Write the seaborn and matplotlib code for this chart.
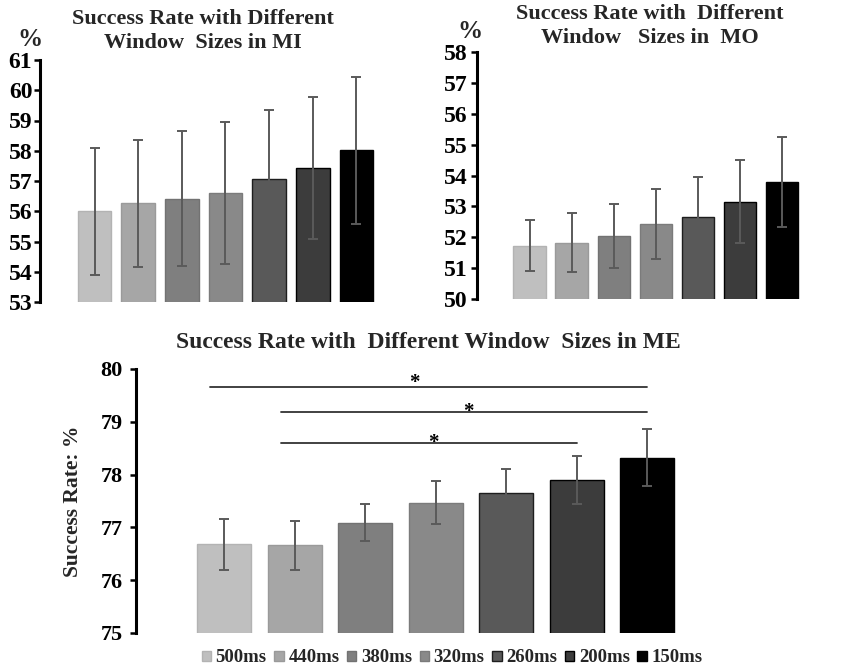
import numpy as np
import pandas as pd
import matplotlib
matplotlib.use("Agg")
import matplotlib.pyplot as plt
from matplotlib.patches import Patch
import seaborn as sns

# window sizes (categories)
windows = ['500ms', '440ms', '380ms', '320ms', '260ms', '200ms', '150ms']

# success rate (%) and error bar half-lengths
mi_mean = [56.00, 56.27, 56.42, 56.59, 57.08, 57.44, 58.01]
mi_err = [2.10, 2.10, 2.23, 2.35, 2.28, 2.35, 2.42]
mo_mean = [51.73, 51.82, 52.05, 52.42, 52.64, 53.15, 53.79]
mo_err = [0.83, 0.95, 1.03, 1.14, 1.31, 1.35, 1.47]
me_mean = [76.68, 76.66, 77.09, 77.47, 77.66, 77.90, 78.32]
me_err = [0.48, 0.46, 0.35, 0.41, 0.45, 0.45, 0.54]

# significance comparisons in ME (bar index pairs, bracket level, star spot)
sig_pairs = [(0, 6), (1, 6), (1, 5)]
sig_levels = [79.66, 79.19, 78.60]
star_x = [2.70, 3.46, 2.96]
star_y = [79.83, 79.28, 78.69]

colors = ['#bfbfbf', '#a6a6a6', '#7f7f7f', '#898989', '#595959', '#3c3c3c', '#000000']
edges = ['#b3b3b3', '#9a9a9a', '#727272', '#7b7b7b', '#1e1e1e', '#000000', '#000000']

sns.set_theme(style='white')
plt.rcParams['font.family'] = ['Liberation Serif', 'DejaVu Serif']
plt.rcParams['font.weight'] = 'bold'

fig = plt.figure(figsize=(8.5, 6.68), dpi=100)


def draw_panel(ax, mean, err, ylim, tick_size, tick_pad):
    df = pd.DataFrame({'window': windows, 'rate': mean})
    sns.barplot(data=df, x='window', y='rate', hue='window', palette=colors,
                order=windows, hue_order=windows, legend=False,
                errorbar=None, width=0.77, ax=ax)
    for patch, ec in zip(ax.patches, edges):
        patch.set_edgecolor(ec)
        patch.set_linewidth(1.0)
    ax.errorbar(np.arange(len(windows)), mean, yerr=err, fmt='none',
                ecolor='#5a5a5a', elinewidth=1.4, capsize=3.6, capthick=1.4)
    ax.set_ylim(*ylim)
    ax.set_xlim(-1.25, 6.45)
    ax.set_yticks(np.arange(ylim[0], ylim[1] + 1))
    ax.set_xticks([])
    ax.set_xlabel('')
    ax.set_ylabel('')
    for s in ['top', 'right', 'bottom']:
        ax.spines[s].set_visible(False)
    ax.spines['left'].set_linewidth(2.2)
    ax.spines['left'].set_color('black')
    ax.tick_params(axis='y', direction='out', length=4.5, width=1.8,
                   left=True, labelsize=tick_size, pad=tick_pad, colors='black')
    for lab in ax.get_yticklabels():
        lab.set_fontweight('bold')


# MI panel
ax1 = fig.add_axes([40 / 850, 1 - 302 / 668, 336 / 850, 242 / 668])
draw_panel(ax1, mi_mean, mi_err, (53, 61), 17, 1.0)
fig.text(203 / 850, 1 - 31 / 668, 'Success Rate with Different\nWindow  Sizes in MI',
         ha='center', va='center', fontsize=16, fontweight='bold', linespacing=1.3)
fig.text(30 / 850, 1 - 40 / 668, '%', ha='center', va='center', fontsize=18, fontweight='bold')

# MO panel
ax2 = fig.add_axes([477 / 850, 1 - 299 / 668, 324 / 850, 247 / 668])
draw_panel(ax2, mo_mean, mo_err, (50, 58), 17, 2.0)
fig.text(650 / 850, 1 - 26 / 668, 'Success Rate with  Different\nWindow   Sizes in  MO',
         ha='center', va='center', fontsize=16, fontweight='bold', linespacing=1.3)
fig.text(470 / 850, 1 - 32 / 668, '%', ha='center', va='center', fontsize=18, fontweight='bold')

# ME panel
ax3 = fig.add_axes([136 / 850, 35 / 668, 543 / 850, 264 / 668])
draw_panel(ax3, me_mean, me_err, (75, 80), 16, 5.0)
ax3.set_ylabel('Success Rate: %', fontsize=15.5, fontweight='bold')
ax3.yaxis.set_label_coords(-0.098, 0.5)
fig.text(428 / 850, 1 - 343 / 668, 'Success Rate with  Different Window  Sizes in ME',
         ha='center', va='center', fontsize=17, fontweight='bold')
for (i, j), lvl in zip(sig_pairs, sig_levels):
    ax3.plot([i - 0.2, j], [lvl, lvl], color='#333333', lw=1.3)
for sx, sy in zip(star_x, star_y):
    ax3.annotate('*', (sx, sy), xytext=(0, -3.5), textcoords='offset points',
                 ha='center', va='center', fontsize=15, fontweight='bold', color='black')

handles = [Patch(facecolor=c, edgecolor=e, label=w) for c, e, w in zip(colors, edges, windows)]
fig.legend(handles=handles, loc='center', bbox_to_anchor=(452 / 850, 1 - 658 / 668),
           ncol=7, frameon=False, handlelength=0.5, handleheight=0.5,
           handletextpad=0.25, columnspacing=0.4, borderaxespad=0,
           prop={'family': 'Liberation Serif', 'weight': 'bold', 'size': 13.5})

fig.savefig('out.png', dpi=100, facecolor='white')
